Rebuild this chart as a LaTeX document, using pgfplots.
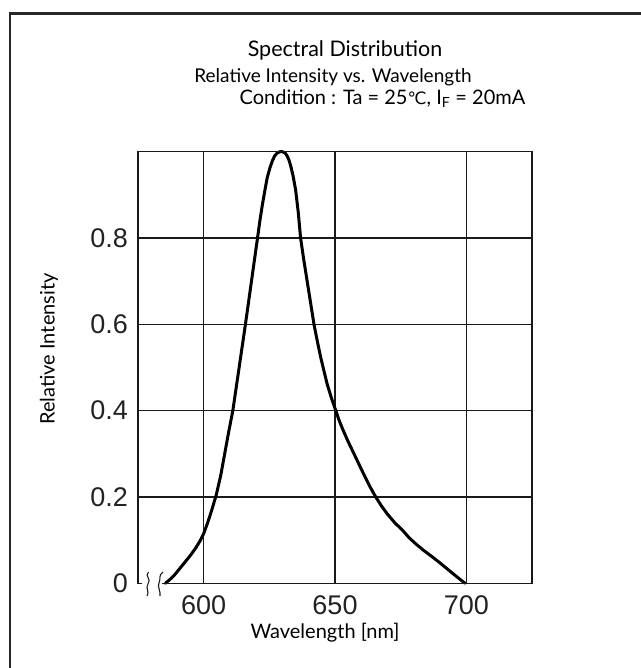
\documentclass[border=0pt]{standalone}
\usepackage{fontspec}
\setmainfont{Lato}
\newfontfamily\tickfont{Liberation Sans}
\newfontfamily\dejavu{DejaVu Sans}
\usepackage{pgfplots}
\pgfplotsset{compat=1.18}
\definecolor{gridc}{HTML}{1A1A1A}
\definecolor{txtc}{HTML}{222222}
\begin{document}
\begin{tikzpicture}
\useasboundingbox (0pt,0pt) rectangle (640pt,668pt);
\begin{axis}[
  at={(138pt,84.7pt)}, anchor=south west,
  scale only axis, width=394pt, height=431.6pt,
  xmin=575, xmax=725, ymin=0, ymax=1,
  axis line style={draw=none},
  xtick={600,650,700}, xticklabels={600,650,700},
  ytick={0.2,0.4,0.6,0.8}, yticklabels={0.2,0.4,0.6,0.8},
  extra y ticks={0}, extra y tick labels={0},
  extra y tick style={grid=none},
  major tick length=0pt,
  grid=major,
  grid style={color=gridc, line width=1.4pt},
  ticklabel style={font=\tickfont\fontsize{27}{30}\selectfont, text=txtc},
  yticklabel style={anchor=east, inner sep=0pt, xshift=-10pt},
  xticklabel style={anchor=north, inner sep=0pt, yshift=-12pt},
  clip=false,
]
\addplot[line width=3pt, black, line join=round, line cap=round] coordinates {
(585.4,0) (587,0.008) (589,0.02) (591,0.035) (593,0.05) (595,0.065) (597,0.082)
(598.5,0.097) (600,0.115) (601.5,0.14) (603,0.168) (604.8,0.205) (606.5,0.25)
(608,0.3) (609.5,0.35) (611.1,0.4) (613.5,0.5) (615.9,0.6) (618.2,0.7)
(620.5,0.8) (621.4,0.84) (622.3,0.875) (623.3,0.91) (624.2,0.94) (625.2,0.962)
(626.1,0.978) (627,0.99) (628,0.997) (629,1.0) (630,1.0) (631,0.997) (631.8,0.99)
(632.5,0.98) (633.1,0.968) (634,0.945) (635,0.912) (636,0.86) (636.9,0.8)
(638.1,0.75) (639.4,0.7) (640.7,0.65) (642,0.6) (643.3,0.56) (644.5,0.525)
(645.8,0.492) (647,0.462) (648.6,0.43) (650.3,0.4) (651.6,0.377) (653,0.356)
(654.8,0.331) (656.6,0.308) (658.8,0.28) (661,0.252) (663.2,0.225) (665.5,0.2)
(667.7,0.179) (670,0.16) (672.8,0.14) (675.7,0.123) (678.3,0.105) (681,0.09)
(684,0.075) (687.1,0.061) (690,0.047) (693,0.032) (696,0.017) (699.5,0)
};
\end{axis}
\begin{scope}[x=1pt,y=1pt]
% outer frame (left and top edges visible)
\draw[line width=2.6pt,color=black!85] (10,-5) -- (10,654.5) -- (650,654.5);
% axis frame with break
\draw[color=gridc, line width=1.4pt] (162,84.7) -- (532,84.7) -- (532,516.3) -- (138,516.3) -- (138,84.7) -- (141.5,84.7);
\draw[color=gridc, line width=1.1pt] (148.5,96) .. controls (144,92) and (152,89) .. (148,84) .. controls (145,80) and (150,76) .. (147,72);
\draw[color=gridc, line width=1.1pt] (163,96) .. controls (158,93) and (161,88) .. (159,85) .. controls (157,82) and (161,76) .. (160,72);
% titles
\node[anchor=base, text=black, font=\fontsize{21.5}{24}\selectfont] at (345,611) {Spectral Distribution};
\node[anchor=center, text=black, font=\fontsize{19}{22}\selectfont] at (333,591) {Relative Intensity vs. Wavelength};
\node[anchor=center, text=black, font=\fontsize{20}{23}\selectfont] at (382.5,569) {Condition : Ta = 25{\dejavu\fontsize{17}{20}\selectfont ℃}, I\textsubscript{F} = 20mA};
\node[anchor=center, text=black, font=\fontsize{20}{23}\selectfont] at (325,35) {Wavelength [nm]};
\node[anchor=center, rotate=90, text=black, font=\fontsize{20}{23}\selectfont] at (49,319) {Relative Intensity};
\end{scope}
\end{tikzpicture}
\end{document}
